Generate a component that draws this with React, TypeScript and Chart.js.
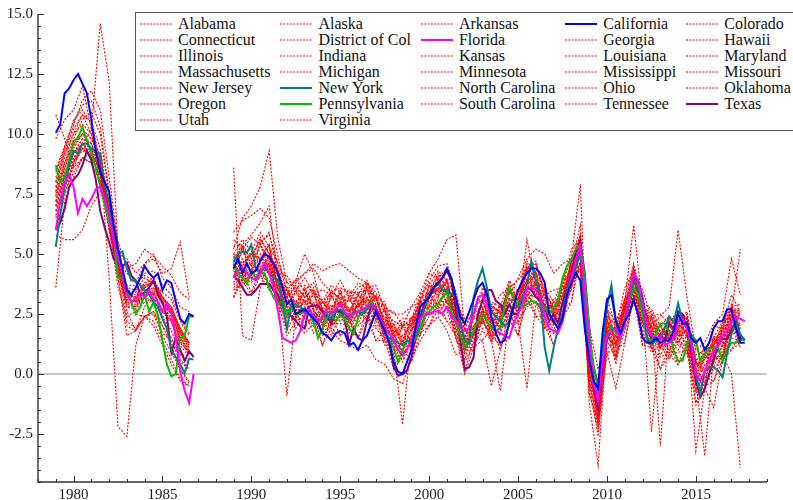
import React, { useEffect, useRef } from 'react';
import { Chart, registerables } from 'chart.js';

Chart.register(...registerables);

const FONT = "'Liberation Serif', 'Times New Roman', Times, serif";

// ---------- axes ----------
const X_MIN = 1978;
const X_MAX = 2019;
const Y_MIN = -4.5;
const Y_MAX = 15;
const X_LABEL_EVERY = 5;
const Y_LABEL_EVERY = 2.5;
const Y_MINOR_STEP = 0.5;

// ---------- time layout of the series ----------
const SEG1_START = 1979; // first period of the first block
const SEG2_START = 1989; // first period of the second block
const GAP_AT = 1988; // no data between the two blocks
const QUARTER = 0.25;
const HALF_YEAR = 0.5;

// ---------- highlighted states (quarterly) ----------
const californiaA = [10.05, 10.4, 11.7, 11.9, 12.25, 12.5, 12.1, 11.7, 10.6, 9.3, 8.4, 8.0, 7.6, 6.2, 5.2, 4.4, 3.5, 3.3, 3.6, 4.0, 4.5, 4.2, 4.0, 4.2, 3.5, 3.9, 3.8, 3.0, 2.3, 2.1, 2.5, 2.4];
const californiaB = [
  4.4, 4.8, 4.2, 4.6,
  4.2, 4.3, 4.7, 5.0,
  4.9, 4.6, 4.2, 3.6,
  2.9, 3.1, 2.5, 2.6,
  2.7, 2.5, 2.3, 2.1,
  1.7, 1.6, 1.4, 1.7,
  1.8, 1.7, 1.2, 1.3,
  1.0, 1.4, 1.6, 2.1,
  2.6, 2.2, 1.8, 1.3,
  0.5, 0.1, 0.0, 0.5,
  1.0, 2.0, 2.8, 3.0,
  3.2, 3.6, 3.8, 4.0,
  4.4, 4.0, 3.2, 2.4,
  2.1, 2.6, 3.1, 3.6,
  3.8, 3.3, 2.4, 1.7,
  1.3, 1.4, 2.1, 2.8,
  3.5, 3.9, 4.2, 4.4,
  4.4, 4.2, 3.8, 2.5,
  2.2, 1.9, 2.3, 3.3,
  3.8, 4.2, 3.9, 1.9,
  0.6, -0.3, -0.6, 1.7,
  3.1, 3.3, 2.2, 1.7,
  2.2, 2.5, 3.1, 2.5,
  1.5, 1.3, 1.3, 1.5,
  1.3, 1.4, 1.4, 1.8,
  2.5, 2.1, 2.1, 1.5,
  1.3, 1.5, 1.0, 1.3,
  1.9, 2.2, 2.2, 2.7,
  2.7, 1.9, 1.3, 1.3,
];

const floridaA = [6.0, 7.2, 8.0, 8.3, 7.8, 6.7, 7.3, 7.0, 7.3, 7.7, 7.8, 7.3, 6.6, 5.6, 4.8, 4.2, 3.3, 3.0, 3.1, 3.4, 3.2, 3.5, 3.1, 3.0, 2.6, 2.9, 2.6, 1.5, 0.1, -0.7, -1.2, 0.0];
const floridaB = [
  4.0, 4.3, 4.4, 4.2,
  4.0, 3.9, 4.2, 4.6,
  4.2, 3.6, 2.6, 1.5,
  1.4, 1.3, 1.4, 1.8,
  2.5, 2.7, 2.4, 2.2,
  2.4, 2.6, 2.5, 2.7,
  2.9, 2.6, 2.4, 2.5,
  2.6, 2.7, 2.8, 2.9,
  2.7, 2.3, 1.9, 1.7,
  1.4, 1.0, 0.8, 1.0,
  1.4, 1.8, 2.3, 2.5,
  2.5, 2.6, 2.6, 2.5,
  2.8, 2.4, 2.2, 1.9,
  1.8, 1.9, 2.5, 3.2,
  3.3, 2.9, 2.3, 1.8,
  1.7, 1.6, 1.5, 2.1,
  2.5, 2.9, 3.6, 3.6,
  3.5, 3.2, 2.4, 1.9,
  1.8, 1.7, 2.2, 3.1,
  4.0, 4.8, 5.3, 3.5,
  1.4, -0.4, -1.1, 0.5,
  1.6, 1.8, 1.9, 1.5,
  2.1, 3.3, 4.2, 3.9,
  3.0, 1.9, 1.6, 1.5,
  1.6, 1.2, 1.3, 1.5,
  2.2, 2.3, 1.9, 1.2,
  0.0, -0.3, 0.1, 0.6,
  0.9, 1.2, 1.6, 1.8,
  2.2, 2.4, 2.3, 2.2,
];

const newYorkA = [5.3, 6.6, 7.8, 8.7, 9.3, 9.2, 9.6, 9.6, 9.4, 9.25, 9.2, 7.8, 7.2, 5.8, 5.0, 5.1, 4.4, 3.9, 3.9, 3.7, 3.5, 3.3, 3.0, 2.8, 2.3, 1.9, 1.0, 0.7, 0.4, 0.05, 0.65, 0.6];
const newYorkB = [
  4.65, 5.0, 5.1, 5.05,
  5.4, 4.4, 4.2, 4.45,
  4.2, 4.0, 3.9, 2.9,
  1.9, 2.9, 2.9, 2.8,
  2.6, 2.5, 2.5, 2.2,
  2.35, 2.5, 2.3, 2.6,
  2.7, 2.5, 2.3, 2.6,
  2.6, 2.5, 2.7, 2.9,
  2.6, 2.2, 1.7, 1.5,
  1.4, 1.3, 1.2, 1.4,
  1.3, 1.6, 2.2, 2.8,
  3.3, 3.6, 3.75, 3.5,
  3.5, 3.3, 3.2, 2.2,
  1.4, 1.25, 3.2, 3.9,
  4.4, 3.6, 2.6, 2.4,
  2.2, 2.0, 2.2, 2.9,
  2.8, 3.2, 3.75, 4.7,
  3.9, 3.2, 1.1, 0.15,
  1.1, 1.9, 2.5, 3.5,
  4.0, 4.4, 5.1, 3.05,
  0.8, -0.5, -0.9, 1.1,
  2.8, 3.7, 2.2, 1.5,
  2.2, 3.2, 3.9, 3.6,
  2.8, 1.5, 1.2, 1.4,
  1.5, 1.9, 2.4, 2.15,
  2.95, 2.2, 1.9, 1.4,
  0.0, -0.83, 0.14, 0.28,
  0.28, 0.14, -0.14, 0.83,
  1.66, 2.15, 1.66, 1.4,
];

const pennsylvaniaA = [8.7, 8.0, 8.2, 8.9, 9.7, 9.85, 10.3, 9.7, 9.2, 8.6, 7.8, 7.1, 6.3, 5.8, 4.0, 4.0, 3.6, 3.0, 2.5, 2.8, 3.3, 2.6, 3.0, 2.4, 1.4, 0.4, -0.1, 0.0, 1.5, 1.6, 2.4, 2.4];
const pennsylvaniaB = [
  4.6, 4.2, 4.0, 3.75,
  4.3, 4.0, 4.2, 4.2,
  3.6, 3.2, 2.9, 3.05,
  2.5, 2.8, 2.5, 2.5,
  2.6, 2.5, 2.2, 1.5,
  1.9, 2.35, 2.5, 2.2,
  2.5, 2.3, 1.9, 1.66,
  2.35, 2.6, 2.8, 3.0,
  2.6, 2.2, 1.9, 1.4,
  1.1, 0.5, 1.0, 1.4,
  1.25, 1.5, 1.9, 2.4,
  2.6, 2.8, 2.9, 3.2,
  3.4, 2.6, 2.2, 1.6,
  1.1, 1.4, 1.8, 2.2,
  2.5, 2.2, 1.9, 1.8,
  1.9, 2.8, 3.6, 3.2,
  2.9, 2.8, 2.9, 3.05,
  3.0, 2.8, 2.8, 2.5,
  2.8, 3.05, 4.0, 4.5,
  4.8, 5.2, 5.4, 4.0,
  1.9, 0.3, -0.6, 0.83,
  1.5, 2.0, 1.7, 1.66,
  2.2, 3.05, 3.6, 3.3,
  2.5, 1.5, 1.4, 1.66,
  2.1, 2.1, 1.8, 1.0,
  0.55, 0.55, 1.25, 1.66,
  1.4, 0.55, 0.83, 1.04,
  1.1, 1.1, 0.55, 1.0,
  1.3, 1.3, 1.4, 1.45,
];

const texasA = [6.0, 6.3, 6.9, 7.8, 8.1, 8.3, 8.7, 9.3, 8.9, 8.1, 6.8, 6.1, 5.5, 4.8, 4.6, 4.5, 4.65, 4.1, 3.9, 3.3, 3.4, 3.6, 3.9, 3.3, 3.0, 2.4, 0.9, 1.5, 1.0, 0.55, 0.95, 0.7];
const texasB = [
  4.1, 3.9, 3.6, 3.3,
  3.3, 3.5, 3.75, 3.75,
  3.75, 3.5, 3.3, 2.8,
  2.6, 2.4, 2.2, 2.0,
  1.9, 2.8, 2.85, 2.85,
  2.6, 2.4, 2.1, 2.6,
  2.6, 2.3, 1.25, 1.9,
  1.5, 1.4, 2.2, 2.9,
  2.7, 2.4, 1.8, 1.4,
  0.3, -0.07, 0.0, 0.14,
  0.7, 1.6, 2.4, 2.9,
  3.3, 3.6, 3.75, 4.0,
  4.3, 3.9, 2.6, 1.4,
  0.2, 0.28, 0.7, 2.5,
  3.05, 3.5, 3.5, 3.05,
  2.9, 2.5, 2.9, 2.5,
  2.5, 3.2, 3.6, 3.5,
  3.2, 3.05, 2.8, 2.2,
  2.5, 2.1, 3.0, 3.5,
  4.2, 5.1, 5.5, 4.2,
  1.9, -0.55, -1.4, 0.28,
  1.4, 1.9, 1.9, 1.5,
  2.1, 3.3, 4.0, 3.9,
  3.2, 1.9, 1.5, 1.4,
  1.66, 1.4, 2.1, 1.9,
  2.6, 2.5, 1.9, 0.83,
  -0.28, -0.97, -0.62, 0.0,
  0.55, 1.25, 1.46, 1.46,
  1.8, 2.2, 1.5, 1.4,
];

// ---------- other states (half-yearly) ----------
const alabamaA = [6.5, 7.6, 8.4, 9.0, 8.8, 8.0, 6.2, 4.8, 3.5, 3.4, 3.8, 3.9, 3.0, 2.7, 1.8, 1.3];
const alabamaB = [4.4, 3.6, 4.3, 4.0, 4.6, 2.7, 2.8, 1.9, 2.6, 1.7, 2.3, 1.6, 2.5, 1.7, 2.6, 2.2, 2.3, 1.2, 1.2, 0.5, 1.5, 1.6, 2.9, 2.5, 3.1, 1.4, 1.0, 1.0, 2.3, 1.3, 2.0, 2.1, 2.6, 2.9, 3.5, 1.9, 2.2, 2.1, 4.0, 4.3, 0.2, -2.0, 1.9, 0.4, 2.3, 2.9, 2.2, 0.9, 1.2, 0.6, 1.4, 0.8, -0.3, -0.7, 0.8, 0.4, 2.0, 1.1];
const alaskaA = [10.8, 9.8, 8.6, 9.6, 10.2, 9.0, 4.0, -2.2, -2.6, 1.2, 2.4, 2.0, 1.2, 0.4, -0.3, -0.5];
const alaskaB = [4.8, 5.4, 5.8, 6.3, 7.0, 4.0, 2.4, 3.0, 3.4, 2.7, 2.0, 2.6, 2.6, 2.2, 2.9, 3.2, 2.4, 1.6, 1.0, -2.1, 1.5, 2.3, 3.1, 2.9, 2.8, 2.1, 1.2, 1.8, 2.6, 1.8, 2.2, 2.9, 2.6, 3.3, 3.2, 2.9, 2.8, 2.9, 4.5, 5.3, 0.8, -0.4, 2.0, 1.6, 2.8, 3.3, 2.6, 2.2, -3.0, 2.2, 1.6, 1.6, 0.4, 0.5, 0.6, 0.8, 0.0, -3.9];
const arkansasA = [6.0, 7.4, 8.8, 9.6, 9.0, 8.3, 6.6, 4.3, 2.8, 2.7, 3.2, 3.4, 2.6, 2.3, 1.4, 0.8];
const arkansasB = [3.2, 4.3, 3.4, 4.4, 3.6, 3.3, 1.8, 2.6, 1.9, 2.5, 1.2, 2.4, 1.6, 2.3, 1.5, 2.7, 1.4, 1.8, 0.3, 1.1, 0.5, 2.1, 2.0, 3.1, 2.2, 2.0, 0.1, 1.5, 1.4, 1.9, 1.0, 2.7, 1.6, 3.5, 2.4, 2.4, 1.2, 2.7, 3.0, 4.8, -0.8, -2.0, 0.9, 1.0, 1.3, 3.4, 1.2, 1.5, 0.2, 1.2, 0.4, 1.4, -1.2, -0.1, -0.3, 1.0, 1.0, 1.7];
const coloradoA = [8.5, 9.5, 10.5, 11.2, 11.4, 10.3, 7.6, 5.5, 4.4, 3.8, 4.1, 3.9, 3.0, 2.2, 1.0, 0.4];
const coloradoB = [3.5, 3.8, 4.2, 4.5, 4.4, 3.8, 3.3, 3.8, 4.2, 4.6, 4.3, 4.5, 4.6, 4.3, 4.0, 3.8, 3.4, 2.8, 2.5, 2.5, 2.8, 3.4, 4.2, 4.8, 5.6, 5.8, 1.8, 1.9, 2.2, 1.6, 1.2, 2.0, 2.2, 2.8, 3.0, 2.4, 2.4, 2.8, 4.2, 4.9, -0.2, -1.0, 1.8, 1.8, 2.8, 4.1, 2.9, 2.0, 2.4, 2.8, 6.0, 3.2, 1.0, 1.3, 2.1, 2.5, 4.8, 3.3];
const connecticutA = [7.8, 8.8, 9.5, 10.0, 9.6, 8.6, 6.8, 5.0, 4.8, 4.2, 4.6, 5.0, 4.0, 3.6, 2.8, 2.6];
const connecticutB = [5.6, 5.2, 5.7, 5.4, 5.9, 4.2, 4.1, 3.5, 4.0, 3.4, 3.5, 3.3, 3.9, 3.2, 3.8, 3.6, 3.7, 2.7, 2.6, 2.0, 2.8, 3.0, 4.2, 4.0, 4.4, 2.9, 2.3, 2.4, 3.6, 2.7, 3.3, 3.6, 3.9, 4.4, 4.7, 3.3, 3.5, 3.6, 5.2, 5.6, 1.5, -0.6, 3.2, 1.9, 3.6, 4.3, 3.5, 2.4, 2.5, 2.1, 2.7, 2.3, 1.0, 0.8, 2.0, 1.9, 3.3, 2.6];
const districtA = [8.0, 9.0, 10.0, 10.8, 10.5, 9.4, 7.0, 4.6, 3.6, 3.5, 4.0, 3.8, 3.4, 3.1, 2.2, 1.6];
const districtB = [5.3, 5.4, 4.8, 5.7, 5.0, 4.4, 3.2, 3.7, 3.2, 3.6, 2.7, 3.5, 3.1, 3.4, 3.0, 3.8, 2.9, 2.9, 1.7, 2.2, 2.0, 3.2, 3.4, 4.2, 3.6, 3.1, 1.5, 2.6, 2.8, 2.9, 2.5, 3.8, 3.1, 4.6, 3.9, 3.5, 2.7, 3.8, 4.4, 5.8, 0.7, -0.4, 2.4, 2.1, 2.8, 4.5, 2.7, 2.6, 1.7, 2.3, 1.9, 2.5, 0.2, 1.0, 1.2, 2.1, 2.5, 2.8];
const georgiaA = [7.2, 8.3, 9.2, 9.8, 9.6, 8.7, 6.4, 4.4, 3.0, 2.9, 3.6, 3.9, 3.2, 2.6, 1.8, 1.2];
const georgiaB = [4.0, 5.3, 4.1, 5.5, 4.3, 4.2, 2.4, 3.5, 2.5, 3.4, 2.0, 3.3, 2.4, 3.2, 2.3, 3.6, 2.2, 2.7, 1.0, 2.0, 1.3, 3.0, 2.7, 4.0, 2.9, 2.9, 0.8, 2.4, 2.1, 2.7, 1.8, 3.6, 2.4, 4.4, 3.2, 3.3, 2.0, 3.6, 3.7, 5.6, 0.0, -1.8, 1.7, 1.9, 2.1, 4.3, 2.0, 2.4, 1.0, 2.1, 1.2, 2.3, -0.5, 0.8, 0.5, 1.9, 1.8, 2.6];
const hawaiiA = [5.8, 5.6, 5.6, 6.0, 7.0, 7.6, 6.4, 4.8, 4.2, 3.8, 4.6, 4.8, 4.2, 4.4, 5.5, 3.2];
const hawaiiB = [5.2, 6.5, 7.0, 7.8, 9.3, 5.6, 3.8, 3.9, 5.0, 4.2, 2.6, 1.8, 1.4, 1.2, 1.0, 1.2, 0.6, 0.4, -0.2, -0.4, 0.6, 1.4, 2.0, 2.4, 1.8, 0.8, 1.0, 1.6, 2.4, 2.6, 2.8, 3.3, 4.0, 4.8, 5.2, 5.0, 4.2, 4.6, 4.8, 5.4, 2.0, 0.2, 1.0, 1.6, 2.8, 3.9, 3.0, 2.2, 1.8, 1.6, 1.6, 1.8, 0.8, 1.0, 1.2, 2.0, 2.8, 2.4];
const illinoisA = [7.4, 8.6, 9.6, 10.2, 9.8, 8.9, 6.8, 4.9, 3.4, 3.2, 3.6, 3.8, 3.1, 2.7, 1.7, 1.1];
const illinoisB = [5.0, 4.6, 5.1, 4.8, 5.4, 3.6, 3.6, 2.9, 3.6, 2.8, 3.1, 2.7, 3.5, 2.6, 3.4, 3.0, 3.3, 2.1, 2.1, 1.4, 2.4, 2.4, 3.8, 3.4, 4.0, 2.3, 1.9, 1.8, 3.2, 2.1, 2.9, 3.0, 3.5, 3.8, 4.3, 2.7, 3.1, 3.0, 4.8, 5.0, 1.1, -1.2, 2.8, 1.3, 3.2, 3.7, 3.1, 1.8, 2.1, 1.5, 2.3, 1.7, 0.6, 0.2, 1.6, 1.3, 2.9, 2.0];
const indianaA = [7.0, 8.1, 8.9, 9.4, 9.1, 8.2, 6.0, 4.0, 2.0, 1.8, 2.4, 2.6, 1.7, 1.4, 0.5, 0.2];
const indianaB = [3.8, 4.5, 3.9, 4.8, 4.1, 3.5, 2.3, 2.8, 2.3, 2.7, 1.8, 2.6, 2.2, 2.5, 2.1, 2.9, 2.0, 2.0, 0.8, 1.3, 1.1, 2.3, 2.5, 3.3, 2.7, 2.2, 0.6, 1.7, 1.9, 2.0, 1.6, 2.9, 2.2, -0.6, 3.0, 2.6, 1.8, 2.9, 3.5, 5.6, -0.2, -2.2, 1.5, 1.2, 1.9, 3.6, 1.8, 1.7, 0.8, 1.4, 1.0, 1.6, -0.7, 0.1, 0.3, 1.2, 1.6, 1.9];
const kansasA = [6.8, 7.8, 8.6, 9.0, 8.8, 8.0, 6.2, 4.2, 2.9, 2.8, 3.3, 3.3, 2.6, 2.2, 1.2, 0.7];
const kansasB = [4.3, 3.9, 4.4, 4.2, 4.6, 2.9, 2.8, 2.2, 2.8, 2.1, 2.3, 2.0, 2.7, 1.9, 2.6, 2.3, 2.5, 1.4, 1.3, 0.7, 1.6, 1.7, 3.0, 2.7, 3.2, 1.6, 1.1, 1.1, 2.4, 1.4, 2.1, 2.3, 2.7, 3.1, 3.5, 2.0, 2.3, 2.3, 4.0, 4.4, 0.6, -1.9, 2.0, 0.6, 2.4, 3.0, 2.3, 1.1, 1.3, 0.8, 1.5, 1.0, -0.2, -0.5, 0.8, 0.6, 2.1, 1.3];
const louisianaA = [7.6, 8.8, 9.8, 10.6, 10.9, 10.0, 7.4, 5.2, 3.5, 3.0, 3.2, 3.0, 2.0, 1.2, 0.2, -0.4];
const louisianaB = [8.6, 1.6, 1.4, 3.6, 4.9, 3.6, 2.8, 2.8, 3.0, 2.9, 2.6, 2.8, 3.0, 2.7, 2.8, 3.0, 2.7, 2.1, 1.4, 1.3, 1.8, 2.4, 3.3, 3.5, 3.4, 2.3, 1.2, 1.8, 2.6, 2.2, 2.3, 3.1, 3.1, 4.2, 4.6, 3.4, 2.8, 3.2, 4.6, 6.2, -0.4, -1.9, 2.2, 1.3, 2.7, 3.9, 2.6, -2.4, 1.5, 1.5, 1.8, 1.7, -0.3, -3.4, 0.8, 1.1, 2.2, 1.9];
const marylandA = [7.5, 8.6, 9.4, 10.0, 9.8, 9.0, 6.9, 4.7, 3.4, 3.3, 3.7, 3.8, 3.2, 2.8, 1.9, 1.3];
const marylandB = [4.7, 5.3, 4.8, 5.6, 5.0, 4.3, 3.2, 3.6, 3.2, 3.5, 2.7, 3.4, 3.1, 3.3, 3.0, 3.7, 2.9, 2.8, 1.7, 2.1, 2.0, 3.1, 3.4, 4.1, 3.6, 3.0, 1.5, 2.5, 2.8, 2.8, 2.5, 3.7, 3.1, 4.5, 3.9, 3.4, 2.7, 3.7, 4.4, 5.7, 0.7, -0.5, 2.4, 2.0, 2.8, 4.4, 2.7, 2.5, 1.7, 2.2, 1.9, 2.4, 0.2, 0.9, 1.2, 2.0, 2.5, 2.7];
const massachusettsA = [7.2, 8.2, 9.2, 9.6, 9.0, 8.2, 6.0, 4.6, 4.4, 4.6, 5.2, 4.9, 4.5, 4.1, 3.4, 3.1];
const massachusettsB = [5.9, 6.4, 6.6, 6.9, 6.5, 4.9, 3.4, 2.9, 2.5, 2.0, 1.6, 2.0, 2.4, 2.3, 2.9, 3.2, 2.6, 2.4, 1.6, 2.0, 2.1, 3.1, 3.9, 4.5, 4.6, 3.4, 2.0, 2.6, 3.4, 2.8, 2.6, 3.4, 3.1, 3.9, 3.6, 2.9, 2.3, 2.9, 3.7, 4.6, 1.2, -0.8, 2.0, 1.8, 2.1, 3.5, 2.0, 1.8, 1.1, 1.6, 1.5, 1.9, 0.4, 0.6, 1.3, 1.7, 2.4, 2.3];
const michiganA = [8.4, 9.4, 10.2, 10.8, 10.0, 8.8, 6.4, 4.0, 1.6, 1.8, 2.4, 2.6, 2.0, 1.5, 0.6, 0.2];
const michiganB = [3.7, 4.1, 3.8, 4.3, 3.9, 3.0, 2.2, 2.3, 2.2, 2.2, 1.7, 2.1, 2.1, 2.0, 2.0, 2.4, 1.9, 1.5, 0.7, 0.8, 1.0, 1.8, 2.4, 2.8, 2.6, 1.6, 0.5, 1.2, 1.8, 1.4, -0.7, 2.4, 2.1, 3.2, 3.0, 1.9, 1.7, 2.4, 3.6, 4.4, -0.4, -2.6, 1.4, 0.7, 1.8, 3.1, 1.7, 1.1, 0.7, 0.9, 0.9, 1.0, -0.8, -0.4, 0.2, 0.7, 1.5, 1.4];
const minnesotaA = [7.4, 8.4, 9.2, 9.6, 9.2, 8.4, 6.4, 4.4, 3.0, 2.8, 3.3, 3.5, 2.9, 2.5, 1.5, 0.9];
const minnesotaB = [4.9, 4.4, 5.0, 4.7, 5.3, 3.4, 3.5, 2.6, 3.5, 2.6, 3.0, 2.5, 3.4, 2.4, 3.3, 2.8, 3.2, 1.9, 2.0, 1.2, 2.3, 2.2, 3.7, 3.2, 3.9, 2.1, 1.8, 1.6, 3.1, 1.9, 2.8, 2.8, 3.4, 3.6, 4.2, 2.5, 3.0, 2.8, 4.7, 4.8, 1.0, -1.4, 2.7, 1.1, 3.1, 3.5, 3.0, 1.6, 2.0, 1.3, 2.2, 1.5, 0.5, 0.0, 1.5, 1.1, 2.8, 1.8];
const mississippiA = [3.6, 7.2, 8.2, 9.0, 9.2, 8.6, 6.8, 4.6, 2.2, 1.9, 2.4, 2.5, 1.6, 0.9, 0.2, -0.3];
const mississippiB = [3.2, 3.9, 3.3, 4.1, 3.5, 3.0, 1.6, 2.2, 1.7, 2.1, 1.2, 1.9, 1.6, 1.9, 1.5, 2.3, 1.4, 1.4, 0.2, 0.7, 0.5, 1.7, 2.0, 2.7, 2.2, 1.6, 0.0, 1.1, 1.4, -0.5, 1.0, 2.3, 1.6, 3.1, 2.4, 2.0, 1.2, 2.3, 3.0, 5.2, -0.8, -2.3, 0.9, -0.6, 1.3, 3.2, 1.2, 1.1, 0.2, 0.8, 0.4, 1.0, -1.3, -0.5, -0.3, 0.6, 1.0, 1.3];
const missouriA = [7.0, 8.0, 9.0, 9.4, 9.0, 8.2, 6.2, 4.3, 3.1, 3.0, 3.4, 3.4, 2.7, 2.4, 1.5, 1.0];
const missouriB = [4.6, 4.1, 4.7, 4.4, 5.0, 3.1, 3.2, 2.4, 3.2, 2.3, 2.7, 2.2, 3.1, 2.1, 3.0, 2.5, 2.9, 1.6, 1.7, 0.9, 2.0, 1.9, 3.4, 2.9, 3.6, 1.8, 1.5, 1.3, 2.8, 1.6, 2.5, 2.5, 3.1, 3.3, 3.9, 2.2, 2.7, 2.5, 4.4, 4.6, 0.7, -1.7, 2.4, 0.8, 2.8, 3.2, 2.7, 1.3, 1.7, 1.0, 1.9, 1.2, 0.2, -0.3, 1.2, 0.8, 2.5, 1.5];
const newJerseyA = [8.2, 9.2, 10.0, 10.4, 10.0, 8.8, 6.6, 4.8, 3.7, 3.7, 4.2, 4.3, 3.7, 3.3, 2.3, 1.7];
const newJerseyB = [5.0, 5.6, 5.1, 5.9, 5.3, 4.6, 3.5, 3.9, 3.5, 3.8, 3.0, 3.7, 3.4, 3.5, 3.3, 3.9, 3.2, 3.0, 2.0, 2.3, 2.3, 3.3, 3.7, 4.3, 3.9, 3.2, 1.8, 2.8, 3.1, 3.0, 2.8, 3.9, 3.4, 4.7, 4.2, 3.6, 3.0, 3.9, 4.7, 5.8, 1.0, -0.3, 2.7, 2.2, 3.1, 4.6, 3.0, 2.7, 2.0, 2.4, 2.2, 2.6, 0.5, 1.1, 1.5, 2.2, 2.8, 2.9];
const northCarolinaA = [7.0, 8.2, 9.0, 9.6, 9.4, 8.6, 6.4, 4.6, 3.3, 3.2, 3.8, 4.0, 3.2, 2.7, 1.8, 1.3];
const northCarolinaB = [4.4, 5.1, 4.5, 5.3, 4.7, 4.1, 2.9, 3.4, 2.9, 3.3, 2.4, 3.2, 2.8, 3.1, 2.7, 3.5, 2.6, 2.6, 1.4, 1.9, 1.7, 2.9, 3.1, 3.9, 3.3, 2.8, 1.2, 2.3, 2.5, 2.6, 2.2, 3.5, 2.8, 4.3, 3.6, 3.2, 2.4, 3.5, 4.1, 5.5, 0.4, -1.1, 2.1, 1.8, 2.5, 4.2, 2.4, 2.3, 1.4, 2.0, 1.6, 2.2, -0.1, 0.7, 0.9, 1.8, 2.2, 2.5];
const ohioA = [7.6, 8.8, 9.6, 10.0, 9.4, 8.4, 6.2, 4.2, 2.8, 2.8, 3.4, 3.6, 3.0, 2.5, 1.5, 0.9];
const ohioB = [4.6, 4.0, 4.6, 4.3, 4.9, 3.0, 3.1, 2.3, 3.1, 2.2, 2.6, 2.1, 3.0, 2.0, 2.9, 2.4, 2.8, 1.5, 1.6, 0.8, 1.9, 1.8, 3.3, 2.8, 3.5, 1.7, 1.4, 1.2, 2.7, 1.5, 2.4, 2.4, 3.0, 3.2, 3.8, 2.1, 2.6, 2.4, 4.3, 4.5, 0.6, -1.9, 2.3, 0.7, 2.7, 3.1, 2.6, 1.2, 1.6, 0.9, 1.8, 1.1, 0.1, -0.4, 1.1, 0.7, 2.4, 1.4];
const oklahomaA = [7.8, 9.2, 10.4, 11.4, 11.8, 11.0, 8.2, 5.4, 3.4, 2.5, 2.4, 2.2, 1.4, 0.6, -0.2, -0.5];
const oklahomaB = [3.6, 3.9, 4.1, 4.6, 4.5, 3.2, -0.9, 2.5, 2.8, 2.6, 2.3, 2.7, 3.0, 2.6, 2.8, 3.1, 2.8, 2.0, 1.3, 1.0, 1.6, 2.3, 3.3, 3.5, 3.5, 2.2, 1.0, 1.6, 2.7, 2.3, 2.4, 3.4, 3.3, 4.4, 4.6, 3.1, 2.6, 3.2, 4.8, 7.9, -1.2, -3.8, 1.6, 1.1, 3.0, 6.2, 2.8, 1.5, 1.2, 1.4, 1.9, 2.0, -3.2, -0.6, -1.4, 0.6, 2.4, 2.0];
const oregonA = [8.0, 9.4, 10.6, 11.0, 10.4, 9.0, 6.2, 3.6, 2.4, 2.6, 3.0, 3.0, 2.4, 2.2, 1.3, 0.9];
const oregonB = [4.0, 4.6, 5.0, 5.5, 5.8, 4.6, 3.8, 3.6, 3.7, 3.4, 3.0, 3.4, 3.6, 3.4, 3.4, 3.5, 3.2, 2.6, 2.2, 2.0, 2.3, 2.9, 3.4, 3.6, 3.4, 2.5, 1.6, 2.0, 2.5, 2.1, 2.2, 2.8, 2.7, 5.6, 3.6, 2.8, 2.8, 3.3, 4.0, 4.4, 0.2, -0.8, 1.9, 1.6, 2.5, 3.5, 2.7, 2.0, 1.8, 1.8, 2.0, 2.1, 0.6, 0.8, 1.4, 1.8, 2.8, 2.6];
const southCarolinaA = [6.6, 7.8, 8.8, 9.4, 9.3, 8.4, 6.2, 4.5, 3.3, 3.1, 3.6, 3.8, 3.0, 2.6, 1.7, 1.2];
const southCarolinaB = [4.1, 4.8, 4.2, 5.0, 4.4, 3.9, 2.6, 3.1, 2.6, 3.0, 2.1, 2.9, 2.5, 2.8, 2.4, 3.2, 2.3, 2.3, 1.1, 1.6, 1.4, 2.6, 2.8, 3.6, 3.0, 2.5, 0.9, 2.0, 2.2, 2.3, 1.9, 3.2, 2.5, 4.0, 3.3, 2.9, 2.1, 3.2, 3.8, 5.3, 0.1, -1.6, 1.8, 1.5, 2.2, 3.9, 2.1, 2.0, 1.1, 1.7, 1.3, 1.9, -0.4, 0.4, 0.6, 1.5, 1.9, 2.2];
const tennesseeA = [6.8, 7.9, 8.8, 9.3, 9.2, 8.5, 6.6, 4.6, 3.2, 3.0, 3.4, 3.6, 2.9, 2.5, 1.6, 1.1];
const tennesseeB = [4.9, 4.5, 5.0, 4.8, 5.4, 3.5, 3.5, 2.8, 3.5, 2.7, 3.0, 2.6, 3.4, 2.5, 3.3, 2.9, 3.2, 2.0, 2.0, 1.3, 2.3, 2.3, 3.7, 3.3, 3.9, 2.2, 1.8, 1.7, 3.1, 2.0, 2.8, 2.9, 3.4, 3.7, 4.2, 2.6, 3.0, 2.9, 4.7, 4.9, 1.0, -1.3, 2.7, 1.2, 3.1, 3.6, 3.0, 1.7, 2.0, 1.4, 2.2, 1.6, 0.5, 0.1, 1.5, 1.2, 2.8, 1.9];
const utahA = [9.8, 10.6, 11.0, 12.0, 10.2, 14.6, 12.2, 5.2, 2.6, 1.8, 2.8, 3.4, 2.4, 1.8, 0.8, 0.6];
const utahB = [3.2, 4.0, 4.4, 4.8, 4.6, 3.9, 3.6, 3.9, 4.2, 4.4, 3.8, 3.4, 3.2, 3.0, 3.6, 3.8, 3.1, 2.3, 1.8, 1.6, 2.0, 2.6, 3.2, 3.6, 3.8, 2.7, 1.4, 1.6, 2.2, 1.6, 1.8, 2.6, 2.8, 3.6, 3.8, 3.0, 2.7, 3.3, 4.4, 5.0, -0.4, -1.1, 1.7, 1.2, 2.3, 3.6, 2.6, 1.9, 1.6, 1.7, 2.0, 2.2, 0.4, 0.6, 1.2, 1.6, 2.6, 5.2];
const virginiaA = [7.2, 8.2, 9.2, 9.8, 9.6, 8.8, 6.7, 4.6, 3.3, 3.2, 3.7, 3.8, 3.2, 2.8, 1.9, 1.3];
const virginiaB = [4.5, 5.2, 4.6, 5.4, 4.8, 4.2, 3.0, 3.5, 3.0, 3.4, 2.5, 3.3, 2.9, 3.2, 2.8, 3.6, 2.7, 2.7, 1.5, 2.0, 1.8, 3.0, 3.2, 4.0, 3.4, 2.9, 1.3, 2.4, 2.6, 2.7, 2.3, 3.6, 2.9, 4.4, 3.7, 3.3, 2.5, 3.6, 4.2, 5.6, 0.5, -1.0, 2.2, 1.9, 2.6, 4.3, 2.5, 2.4, 1.5, 2.1, 1.7, 2.3, 0.0, 0.8, 1.0, 1.9, 2.3, 2.6];

// legend / drawing order (alphabetical, as in the legend)
const STATE_NAMES = [
  'Alabama', 'Alaska', 'Arkansas', 'California', 'Colorado',
  'Connecticut', 'District of Col', 'Florida', 'Georgia', 'Hawaii',
  'Illinois', 'Indiana', 'Kansas', 'Louisiana', 'Maryland',
  'Massachusetts', 'Michigan', 'Minnesota', 'Mississippi', 'Missouri',
  'New Jersey', 'New York', 'North Carolina', 'Ohio', 'Oklahoma',
  'Oregon', 'Pennsylvania', 'South Carolina', 'Tennessee', 'Texas',
  'Utah', 'Virginia',
];

const STATE_VALUES: Record<string, [number[], number[]]> = {
  Alabama: [alabamaA, alabamaB],
  Alaska: [alaskaA, alaskaB],
  Arkansas: [arkansasA, arkansasB],
  California: [californiaA, californiaB],
  Colorado: [coloradoA, coloradoB],
  Connecticut: [connecticutA, connecticutB],
  'District of Col': [districtA, districtB],
  Florida: [floridaA, floridaB],
  Georgia: [georgiaA, georgiaB],
  Hawaii: [hawaiiA, hawaiiB],
  Illinois: [illinoisA, illinoisB],
  Indiana: [indianaA, indianaB],
  Kansas: [kansasA, kansasB],
  Louisiana: [louisianaA, louisianaB],
  Maryland: [marylandA, marylandB],
  Massachusetts: [massachusettsA, massachusettsB],
  Michigan: [michiganA, michiganB],
  Minnesota: [minnesotaA, minnesotaB],
  Mississippi: [mississippiA, mississippiB],
  Missouri: [missouriA, missouriB],
  'New Jersey': [newJerseyA, newJerseyB],
  'New York': [newYorkA, newYorkB],
  'North Carolina': [northCarolinaA, northCarolinaB],
  Ohio: [ohioA, ohioB],
  Oklahoma: [oklahomaA, oklahomaB],
  Oregon: [oregonA, oregonB],
  Pennsylvania: [pennsylvaniaA, pennsylvaniaB],
  'South Carolina': [southCarolinaA, southCarolinaB],
  Tennessee: [tennesseeA, tennesseeB],
  Texas: [texasA, texasB],
  Utah: [utahA, utahB],
  Virginia: [virginiaA, virginiaB],
};

// styles
const HIGHLIGHT_COLORS: Record<string, string> = {
  California: '#0000ff',
  Florida: '#ff00ff',
  'New York': '#008080',
  Pennsylvania: '#00c000',
  Texas: '#800080',
};
const OTHER_COLOR = '#ff0000';

function buildPoints(a: number[], b: number[], step: number) {
  const pts: { x: number; y: number | null }[] = a.map((v, i) => ({ x: SEG1_START + i * step, y: v }));
  pts.push({ x: GAP_AT, y: null });
  b.forEach((v, i) => pts.push({ x: SEG2_START + i * step, y: v }));
  return pts;
}

const axesPlugin = {
  id: 'axesAndTicks',
  beforeDatasetsDraw(chart: any) {
    const { ctx, chartArea, scales } = chart;
    const y0 = scales.y.getPixelForValue(0);
    ctx.save();
    ctx.strokeStyle = '#b5b5b5';
    ctx.lineWidth = 1.6;
    ctx.beginPath();
    ctx.moveTo(chartArea.left, y0);
    ctx.lineTo(chartArea.right, y0);
    ctx.stroke();
    ctx.restore();
  },
  afterDatasetsDraw(chart: any) {
    const { ctx, chartArea: ca, scales } = chart;
    const xs = scales.x;
    const ys = scales.y;
    ctx.save();
    ctx.strokeStyle = '#333';
    ctx.lineWidth = 1.4;
    ctx.beginPath();
    ctx.moveTo(ca.left, ca.top);
    ctx.lineTo(ca.left, ca.bottom);
    ctx.lineTo(ca.right, ca.bottom);
    ctx.stroke();
    ctx.lineWidth = 1;
    ctx.beginPath();
    for (let yr = X_MIN; yr <= X_MAX; yr += 1) {
      const px = Math.round(xs.getPixelForValue(yr)) + 0.5;
      const len = yr % X_LABEL_EVERY === 0 ? 6 : 3;
      ctx.moveTo(px, ca.bottom);
      ctx.lineTo(px, ca.bottom - len);
    }
    const n = Math.round((Y_MAX - Y_MIN) / Y_MINOR_STEP);
    for (let i = 0; i <= n; i++) {
      const v = Y_MIN + i * Y_MINOR_STEP;
      const py = Math.round(ys.getPixelForValue(v)) + 0.5;
      const r = v / Y_LABEL_EVERY;
      const major = Math.abs(r - Math.round(r)) < 1e-6;
      ctx.moveTo(ca.left, py);
      ctx.lineTo(ca.left + (major ? 6 : 3), py);
    }
    ctx.stroke();
    ctx.restore();
  },
};

function Legend() {
  return (
    <div
      style={{
        position: 'absolute',
        left: 134.5,
        top: 12,
        width: 670,
        height: 119,
        boxSizing: 'border-box',
        border: '1px solid #555',
        background: '#fff',
        paddingLeft: 4.5,
        paddingTop: 2.6,
      }}
    >
      <div
        style={{
          display: 'grid',
          gridTemplateColumns: 'repeat(5, max-content)',
          columnGap: 10,
          gridAutoRows: '16.1px',
        }}
      >
        {STATE_NAMES.map((name) => {
          const c = HIGHLIGHT_COLORS[name];
          return (
            <div key={name} style={{ display: 'flex', alignItems: 'center', height: 16.1 }}>
              <svg width={32} height={4} style={{ marginRight: 6, flex: 'none', display: 'block' }}>
                <line
                  x1={0}
                  y1={2}
                  x2={32}
                  y2={2}
                  stroke={c || OTHER_COLOR}
                  strokeWidth={c ? 2 : 1}
                  strokeDasharray={c ? undefined : '2 1.3'}
                />
              </svg>
              <span
                style={{
                  fontFamily: FONT,
                  fontSize: 16,
                  lineHeight: '16.1px',
                  color: '#111',
                  whiteSpace: 'nowrap',
                }}
              >
                {name}
              </span>
            </div>
          );
        })}
      </div>
    </div>
  );
}

export default function App() {
  const ref = useRef<HTMLCanvasElement | null>(null);

  useEffect(() => {
    if (!ref.current) return;
    const datasets = STATE_NAMES.map((name) => {
      const [a, b] = STATE_VALUES[name];
      const c = HIGHLIGHT_COLORS[name];
      return {
        label: name,
        data: buildPoints(a, b, c ? QUARTER : HALF_YEAR),
        borderColor: c || OTHER_COLOR,
        borderWidth: c ? 2 : 1.1,
        borderDash: c ? [] : [2, 1.5],
        pointRadius: 0,
        pointHoverRadius: 0,
        fill: false,
        tension: 0,
        spanGaps: false,
        order: c ? 0 : 1,
      };
    });

    const chart = new Chart(ref.current, {
      type: 'line',
      data: { datasets } as any,
      options: {
        animation: false,
        responsive: false,
        maintainAspectRatio: false,
        devicePixelRatio: 1,
        layout: { padding: { top: 13, right: 26, left: 0, bottom: 0 } },
        plugins: { legend: { display: false }, tooltip: { enabled: false } },
        events: [],
        scales: {
          x: {
            type: 'linear',
            min: X_MIN,
            max: X_MAX,
            grid: { display: false, drawTicks: false },
            border: { display: false },
            ticks: {
              stepSize: 1,
              autoSkip: false,
              maxRotation: 0,
              padding: 4,
              color: '#1a1a1a',
              font: { family: FONT, size: 15 },
              callback: (v: any) => (Number(v) % X_LABEL_EVERY === 0 ? String(v) : ''),
            },
            afterFit: (s: any) => {
              s.height = 18;
            },
          },
          y: {
            type: 'linear',
            min: Y_MIN,
            max: Y_MAX,
            grid: { display: false, drawTicks: false },
            border: { display: false },
            ticks: {
              stepSize: Y_MINOR_STEP,
              autoSkip: false,
              padding: 5,
              color: '#1a1a1a',
              font: { family: FONT, size: 15 },
              callback: (v: any) => {
                const r = Number(v) / Y_LABEL_EVERY;
                return Math.abs(r - Math.round(r)) < 1e-6 ? Number(v).toFixed(1) : '';
              },
            },
            afterFit: (s: any) => {
              s.width = 38;
            },
          },
        },
      } as any,
      plugins: [axesPlugin],
    });
    return () => chart.destroy();
  }, []);

  return (
    <div
      style={{
        position: 'fixed',
        left: 0,
        top: 0,
        width: 793,
        height: 500,
        overflow: 'hidden',
        background: '#fff',
      }}
    >
      <canvas ref={ref} width={793} height={500} style={{ position: 'absolute', left: 0, top: 0, width: 793, height: 500 }} />
      <Legend />
    </div>
  );
}
